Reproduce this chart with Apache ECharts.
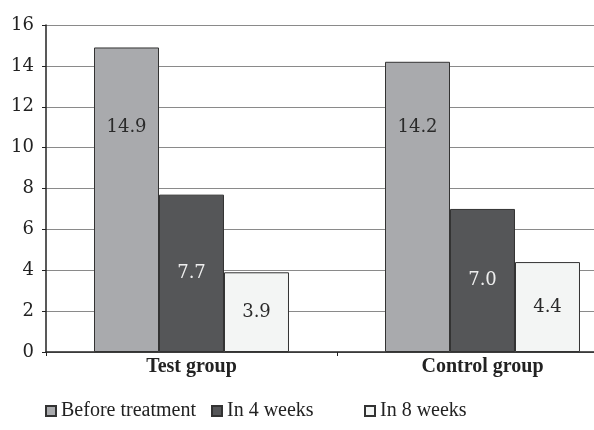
<!DOCTYPE html>
<html>
<head>
    <meta charset="utf-8">
    <script src="https://cdn.jsdelivr.net/npm/echarts@6/dist/echarts.min.js"></script>
    <style>
        * { padding: 0; margin: 0 }
        body, html { height: 100%; width: 100%; background: #fff; overflow: hidden }
        /* the original figure is cropped on the right, so the chart is wider than the window */
        #container { height: 430px; width: 628px }
    </style>
</head>
<body>
    <div id="container"></div>
</body>
<script>
    const categories = ['Test group', 'Control group'];
    const seriesNames = ['Before treatment', 'In 4 weeks', 'In 8 weeks'];
    const beforeTreatment = [14.9, 14.2];
    const in4Weeks = [7.7, 7.0];
    const in8Weeks = [3.9, 4.4];
    const yTicks = [0, 2, 4, 6, 8, 10, 12, 14, 16];

    const colors = ['#a9aaad', '#555658', '#f3f5f4'];
    const labelColors = ['#2a2a2a', '#eeeeee', '#2a2a2a'];
    const numFont = 'DejaVu Serif';
    const textFont = 'Liberation Serif';

    const myChart = echarts.init(document.getElementById('container'));

    // px per unit on the value axis (327px for 16 units)
    const pxPerUnit = 327 / 16;

    function makeSeries(name, values, i) {
        return {
            name: name,
            type: 'bar',
            barGap: '0%',
            barCategoryGap: '33%',
            itemStyle: { color: colors[i], borderColor: '#333', borderWidth: 1 },
            label: {
                show: true,
                position: 'inside',
                color: labelColors[i],
                fontFamily: numFont,
                fontSize: 18,
                formatter: p => p.value.toFixed(1)
            },
            data: values.map(v => {
                if (i !== 0) return v;
                // tall bars: label sits near the value 11 level
                return { value: v, label: { offset: [0, -(11 - v / 2) * pxPerUnit] } };
            })
        };
    }

    const legendLeft = [45, 211, 364];

    const option = {
        animation: false,
        grid: { left: 46, right: 0, top: 25, bottom: 78 },
        legend: seriesNames.map((n, i) => ({
            data: [n],
            left: legendLeft[i],
            top: 401,
            padding: 0,
            icon: 'rect',
            itemWidth: 10,
            itemHeight: 10,
            itemGap: 6,
            textStyle: { fontFamily: textFont, fontSize: 20, color: '#222' }
        })),
        xAxis: {
            type: 'category',
            data: categories,
            axisLine: { lineStyle: { color: '#222', width: 1.5 } },
            axisTick: { show: true, length: 4, lineStyle: { color: '#222' } },
            axisLabel: { fontFamily: textFont, fontWeight: 'bold', fontSize: 20, color: '#222', margin: 5 }
        },
        yAxis: {
            type: 'value',
            min: yTicks[0],
            max: yTicks[yTicks.length - 1],
            interval: 2,
            axisLine: { show: true, lineStyle: { color: '#222', width: 1.5 } },
            axisTick: { show: true, length: 4, lineStyle: { color: '#222' } },
            splitLine: { lineStyle: { color: '#8a8a8a', width: 1 } },
            axisLabel: { fontFamily: numFont, fontSize: 18, color: '#222', margin: 12 }
        },
        series: [
            makeSeries(seriesNames[0], beforeTreatment, 0),
            makeSeries(seriesNames[1], in4Weeks, 1),
            makeSeries(seriesNames[2], in8Weeks, 2)
        ]
    };

    myChart.setOption(option);
</script>
</html>
